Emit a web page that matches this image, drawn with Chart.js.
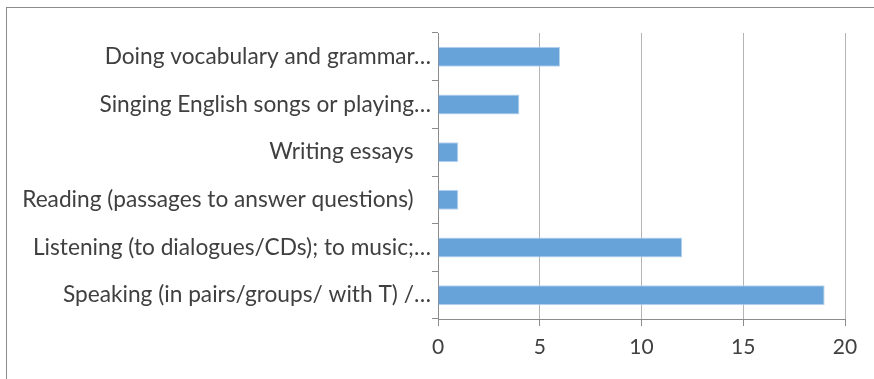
<!DOCTYPE html>
<html>
<head>
<meta charset="utf-8">
<script src="https://cdn.jsdelivr.net/npm/chart.js@4/dist/chart.umd.min.js"></script>
<style>
  html, body { margin: 0; padding: 0; background: #fff; }
  #wrap { width: 874px; height: 379px; }
</style>
</head>
<body>
<div id="wrap"><canvas id="activities" width="874" height="379"></canvas></div>
<script>
const categories = [
    "Doing vocabulary and grammar…",
    "Singing English songs or playing…",
    "Writing essays   ",
    "Reading (passages to answer questions)   ",
    "Listening (to dialogues/CDs); to music;…",
    "Speaking (in pairs/groups/ with T) /…",
];
const counts = [6, 4, 1, 1, 12, 19];
const xTicks = [0, 5, 10, 15, 20];

// frame round the chart
const frame = {
    id: "frame",
    beforeDraw(chart) {
        const ctx = chart.ctx;
        ctx.save();
        ctx.strokeStyle = "#8c8c8c";
        ctx.lineWidth = 1;
        ctx.strokeRect(6.5, 7.5, 920, 420);
        ctx.restore();
    },
};

const config = {
    type: "bar",
    data: {
        labels: categories,
        datasets: [
            {
                label: "Count",
                data: counts,
                backgroundColor: "#67a3d9",
                borderColor: "#b9d4ee",
                borderWidth: 1,
                categoryPercentage: 0.42,
                barPercentage: 1.0,
            },
        ],
    },
    options: {
        indexAxis: "y",
        responsive: false,
        animation: false,
        layout: { padding: { left: 0, right: 29, top: 33, bottom: 0 } },
        plugins: { legend: { display: false }, tooltip: { enabled: false } },
        scales: {
            x: {
                min: 0,
                max: 20,
                afterBuildTicks(scale) {
                    scale.ticks = xTicks.map((v) => ({ value: v }));
                },
                afterFit(scale) {
                    scale.height = 60;
                },
                grid: {
                    color: "#b4b4b4",
                    lineWidth: 1,
                    tickLength: 7,
                    tickColor: "#8c8c8c",
                },
                border: { color: "#8c8c8c" },
                ticks: {
                    color: "#404040",
                    padding: 9,
                    font: { family: "Lato", size: 21 },
                },
            },
            y: {
                afterFit(scale) {
                    scale.width = 438;
                },
                grid: {
                    drawOnChartArea: false,
                    offset: true,
                    tickLength: 6,
                    color: "#8c8c8c",
                },
                border: { color: "#8c8c8c" },
                ticks: {
                    color: "#404040",
                    padding: 1,
                    font: { family: "Lato", size: 22.7 },
                },
            },
        },
    },
    plugins: [frame],
};

const chartEl = document.getElementById("activities");
const myChart = new Chart(chartEl, config);
</script>
</body>
</html>
